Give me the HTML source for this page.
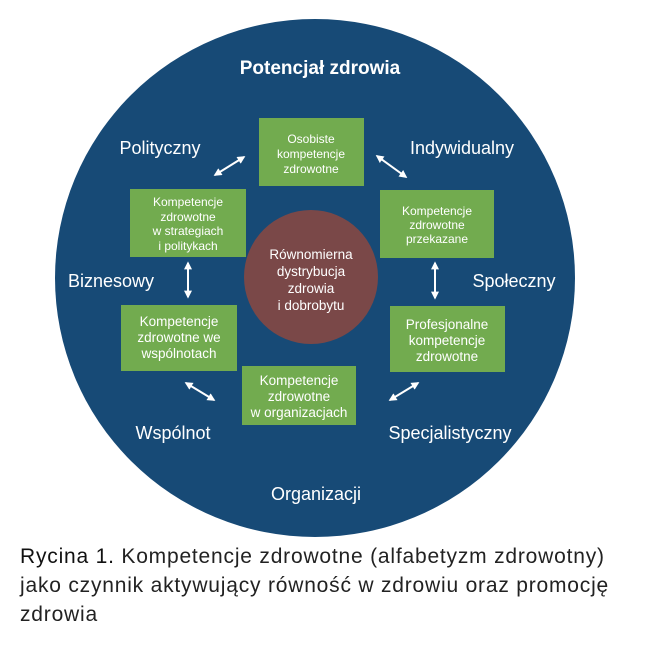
<!DOCTYPE html>
<html><head><meta charset="utf-8"><style>
body{margin:0;background:#fff;width:664px;height:652px;overflow:hidden;font-family:"Liberation Sans",sans-serif}
.cap{position:absolute;left:20px;top:542px;font-size:21px;line-height:29px;color:#222;width:644px;white-space:nowrap;letter-spacing:0.8px}
</style></head><body>
<svg width="664" height="540" style="position:absolute;left:0;top:0" font-family="Liberation Sans, sans-serif">
<defs><marker id="a" viewBox="0 0 10 10" refX="8" refY="5" markerWidth="4" markerHeight="4" orient="auto-start-reverse"><path d="M0,0L10,5L0,10z" fill="#fff"/></marker></defs>
<ellipse cx="315" cy="278" rx="260" ry="259" fill="#174a76"/>
<circle cx="311" cy="277" r="67" fill="#7a4848"/>
<g fill="#72ab4f">
<rect x="259" y="118" width="105" height="68"/>
<rect x="130" y="189" width="116" height="68"/>
<rect x="380" y="190" width="114" height="68"/>
<rect x="121" y="305" width="116" height="66"/>
<rect x="390" y="306" width="115" height="66"/>
<rect x="242" y="366" width="114" height="59"/>
</g>
<g stroke="#fff" stroke-width="2" marker-start="url(#a)" marker-end="url(#a)">
<line x1="215" y1="175" x2="244" y2="157"/>
<line x1="377" y1="156" x2="406" y2="177"/>
<line x1="188" y1="263" x2="188" y2="297"/>
<line x1="435" y1="263" x2="435" y2="298"/>
<line x1="186" y1="383" x2="214" y2="400"/>
<line x1="390" y1="400" x2="418" y2="383"/>
</g>
<g fill="#fff" text-anchor="middle">
<text x="320" y="74" font-size="19" font-weight="bold">Potencjał zdrowia</text>
<g font-size="18"><text x="160" y="154">Polityczny</text><text x="462" y="154">Indywidualny</text>
<text x="111" y="287">Biznesowy</text><text x="514" y="287">Społeczny</text>
<text x="173" y="439">Wspólnot</text><text x="450" y="439">Specjalistyczny</text>
<text x="316" y="500">Organizacji</text></g>
<g font-size="12"><text x="311" y="143">Osobiste</text><text x="311" y="158">kompetencje</text><text x="311" y="173">zdrowotne</text>
<text x="188" y="206">Kompetencje</text><text x="188" y="221">zdrowotne</text><text x="188" y="235">w strategiach</text><text x="188" y="250">i politykach</text>
<text x="437" y="215">Kompetencje</text><text x="437" y="229">zdrowotne</text><text x="437" y="243">przekazane</text></g>
<g font-size="13.5"><text x="179" y="326">Kompetencje</text><text x="179" y="342">zdrowotne we</text><text x="179" y="358">wspólnotach</text>
<text x="447" y="329">Profesjonalne</text><text x="447" y="345">kompetencje</text><text x="447" y="361">zdrowotne</text>
<text x="299" y="385">Kompetencje</text><text x="299" y="401">zdrowotne</text><text x="299" y="417">w organizacjach</text>
<text x="311" y="259">Równomierna</text><text x="311" y="276">dystrybucja</text><text x="311" y="293">zdrowia</text><text x="311" y="310">i dobrobytu</text></g>
</g>
</svg>
<div class="cap"><span style="color:#111">Rycina 1.</span> Kompetencje zdrowotne (alfabetyzm zdrowotny)<br>jako czynnik aktywujący równość w zdrowiu oraz promocję<br>zdrowia</div>
</body></html>
